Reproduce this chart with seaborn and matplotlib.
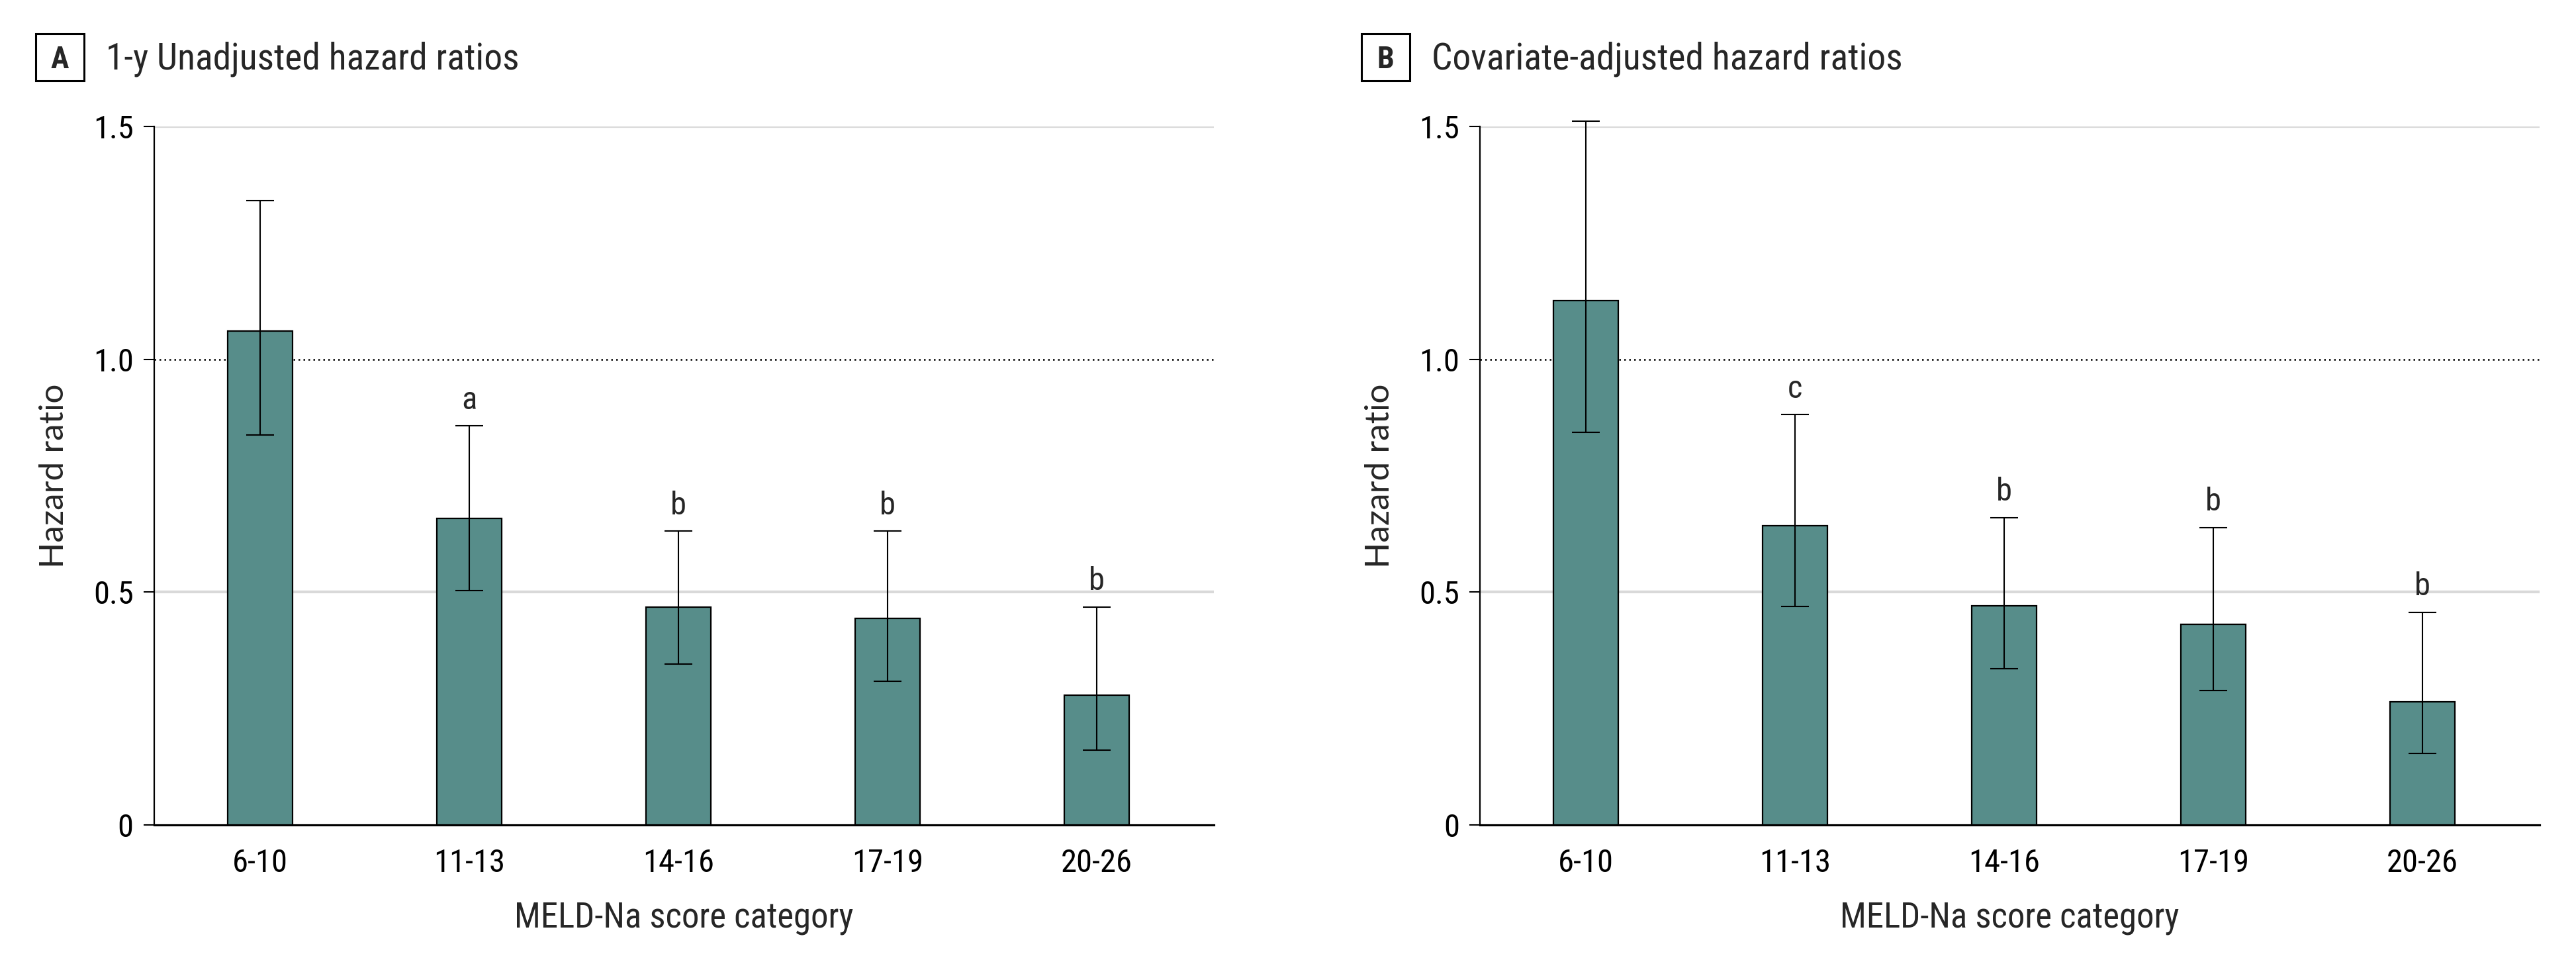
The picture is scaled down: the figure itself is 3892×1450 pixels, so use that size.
import numpy as np
import pandas as pd
import matplotlib
matplotlib.use("Agg")
import matplotlib.pyplot as plt
from matplotlib.patches import Rectangle
import seaborn as sns

# data
categories = ["6-10", "11-13", "14-16", "17-19", "20-26"]

hr_unadj = [1.061, 0.659, 0.468, 0.443, 0.278]
lo_unadj = [0.838, 0.504, 0.346, 0.308, 0.161]
hi_unadj = [1.341, 0.857, 0.631, 0.631, 0.468]
sig_unadj = ["", "a", "b", "b", "b"]

hr_adj = [1.126, 0.643, 0.470, 0.431, 0.265]
lo_adj = [0.843, 0.469, 0.335, 0.289, 0.153]
hi_adj = [1.512, 0.881, 0.660, 0.639, 0.457]
sig_adj = ["", "c", "b", "b", "b"]

panels = [
    ("A", "1-y Unadjusted hazard ratios", hr_unadj, lo_unadj, hi_unadj, sig_unadj),
    ("B", "Covariate-adjusted hazard ratios", hr_adj, lo_adj, hi_adj, sig_adj),
]

sns.set_style("white")
narrow = ["Roboto Condensed", "Liberation Sans Narrow", "DejaVu Sans"]
plt.rcParams["font.family"] = narrow

bar_color = "#578d8a"
W, H = 3892, 1450

fig = plt.figure(figsize=(W / 100, H / 100), dpi=100)

# axes boxes in pixels (left, top of plot area)
ax_left = [233, 2236]
ax_w, ax_top, ax_bot = 1601, 191, 1246
axes = [fig.add_axes([l / W, (H - ax_bot) / H, ax_w / W, (ax_bot - ax_top) / H])
        for l in ax_left]

for ax, lpx, (letter, title, hr, lo, hi, sig) in zip(axes, ax_left, panels):
    df = pd.DataFrame({"cat": categories, "hr": hr})
    sns.barplot(data=df, x="cat", y="hr", color=bar_color, saturation=1,
                width=0.31, edgecolor="black", linewidth=1.6, errorbar=None,
                ax=ax, zorder=3)

    x = np.arange(len(categories))
    hr_a = np.array(hr)
    yerr = [hr_a - np.array(lo), np.array(hi) - hr_a]
    ax.errorbar(x, hr_a, yerr=yerr, fmt="none", ecolor="black", elinewidth=1.5,
                capsize=15, capthick=1.5, zorder=4, clip_on=False)

    for xi, top, s in zip(x, hi, sig):
        if s:
            ax.text(xi, top + 0.055, s, ha="center", va="center", fontsize=35)

    ax.set_ylim(0, 1.5)
    ax.set_xlim(-0.506, 4.56)
    ax.set_yticks([0, 0.5, 1.0, 1.5])
    ax.set_yticklabels(["0", "0.5", "1.0", "1.5"])

    for yv in [0.5, 1.5]:
        ax.axhline(yv, color="#d9d9d9", lw=3, zorder=1)
    ax.axhline(1.0, color="black", lw=1.8, ls=(0, (1, 2)), zorder=1)

    sns.despine(ax=ax, top=True, right=True)
    ax.spines["left"].set_linewidth(1.6)
    ax.spines["bottom"].set_linewidth(2.3)
    ax.spines["left"].set_color("black")
    ax.spines["bottom"].set_color("black")

    ax.tick_params(axis="y", left=True, length=11.5, width=1.5, labelsize=35,
                   pad=11, colors="black")
    ax.tick_params(axis="x", bottom=False, labelsize=35, pad=22, colors="black")

    ax.set_xlabel("MELD-Na score category", fontsize=38)
    ax.xaxis.set_label_coords(0.5, -(1400 - ax_bot) / (ax_bot - ax_top))
    ax.xaxis.label.set_va("baseline")

    ax.set_ylabel("Hazard ratio", fontsize=37, family=["Lato", "DejaVu Sans"])
    ax.yaxis.set_label_coords(-(233 - 82) / ax_w, 0.5)
    ax.yaxis.label.set_va("center")

    # panel letter in a box + title
    bx = lpx - 179
    fig.add_artist(Rectangle((bx / W, (H - 122) / H), 73 / W, 71 / H,
                             transform=fig.transFigure, fill=False,
                             ec="black", lw=2.2))
    fig.text((bx + 36.5) / W, (H - 103) / H, letter, fontsize=33,
             fontweight="bold", ha="center", va="baseline")
    fig.text((lpx - 73) / W, (H - 105) / H, title, fontsize=40,
             ha="left", va="baseline")

fig.savefig("out.png", dpi=100, facecolor="white")
